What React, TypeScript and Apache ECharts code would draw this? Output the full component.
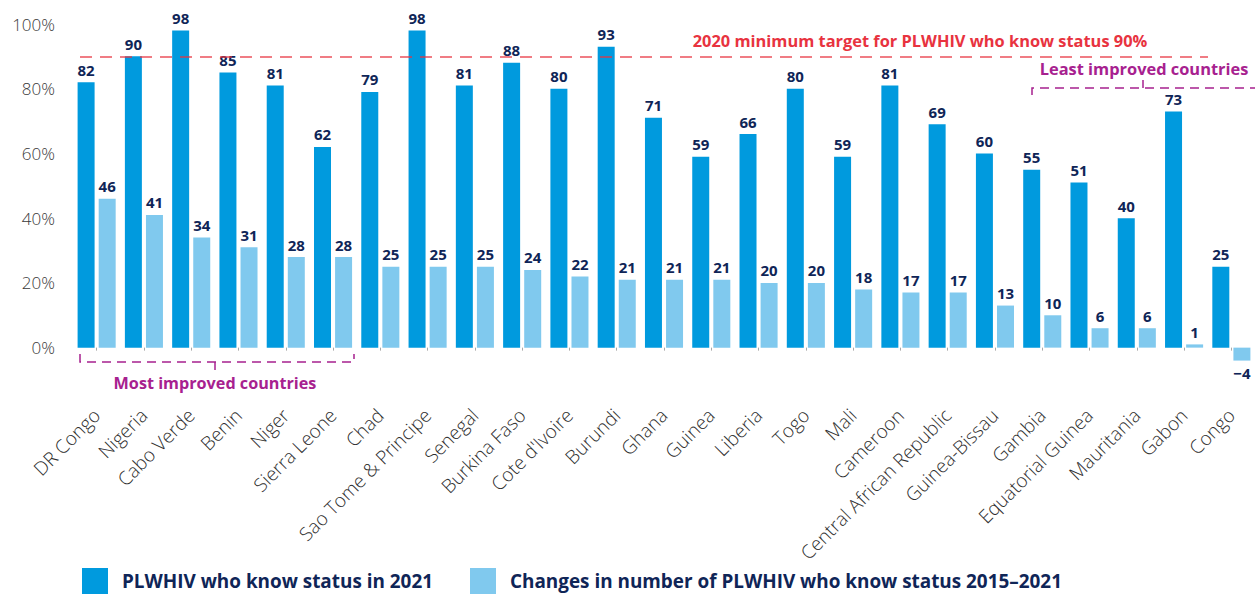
import React, { useEffect, useRef } from "react";
import * as echarts from "echarts";

const categories = [
  "DR Congo", "Nigeria", "Cabo Verde", "Benin", "Niger", "Sierra Leone", "Chad",
  "Sao Tome & Principe", "Senegal", "Burkina Faso", "Cote d'Ivoire", "Burundi",
  "Ghana", "Guinea", "Liberia", "Togo", "Mali", "Cameroon",
  "Central African Republic", "Guinea-Bissau", "Gambia", "Equatorial Guinea",
  "Mauritania", "Gabon", "Congo",
];
const knowStatus2021 = [82, 90, 98, 85, 81, 62, 79, 98, 81, 88, 80, 93, 71, 59, 66, 80, 59, 81, 69, 60, 55, 51, 40, 73, 25];
const change2015to2021 = [46, 41, 34, 31, 28, 28, 25, 25, 25, 24, 22, 21, 21, 21, 20, 20, 18, 17, 17, 13, 10, 6, 6, 1, -4];
const targetValue = 90;
const seriesNames = ["PLWHIV who know status in 2021", "Changes in number of PLWHIV who know status 2015\u20132021"];
const targetText = "2020 minimum target for PLWHIV who know status 90%";
const mostText = "Most improved countries";
const leastText = "Least improved countries";

const DARK = "#009ade";
const LIGHT = "#80c9ee";
const NAVY = "#0f2557";
const RED = "#e8333f";
const PURPLE = "#a7218f";
const FONT = "'Open Sans', 'Noto Sans', sans-serif";

export default function App() {
  const ref = useRef<HTMLDivElement>(null);
  useEffect(() => {
    document.body.style.margin = "0";
    if (!ref.current) return;
    const chart = echarts.init(ref.current, null, { renderer: "svg" });
    const labelCommon = {
      show: true,
      position: "top" as const,
      distance: 5,
      color: NAVY,
      fontWeight: "bold" as const,
      fontSize: 15,
      fontFamily: FONT,
      formatter: (p: any) => String(p.value).replace("-", "\u2212"),
    };
    chart.setOption({
      animation: false,
      grid: { left: 73, width: 1189, top: 24, bottom: 214, containLabel: false },
      legend: {
        left: 82,
        top: 568,
        padding: 0,
        itemWidth: 26,
        itemHeight: 26,
        itemGap: 37,
        icon: "rect",
        selectedMode: false,
        textStyle: { color: NAVY, fontWeight: "bold", fontSize: 18.9, lineHeight: 19, fontFamily: FONT, padding: [0, 0, 0, 9] },
        data: seriesNames,
      },
      xAxis: {
        type: "category",
        data: categories,
        axisLine: { show: false },
        axisTick: { show: true, alignWithLabel: true, length: 3, lineStyle: { color: "#aaaaaa" } },
        axisLabel: {
          rotate: 45,
          margin: 32,
          interval: 0,
          color: "#2e2e2e",
          fontSize: 19,
          fontWeight: 300,
          fontFamily: FONT,
        },
      },
      yAxis: {
        type: "value",
        min: -10,
        max: 100,
        interval: 10,
        axisLine: { show: false },
        axisTick: { show: false },
        splitLine: { show: false },
        axisLabel: {
          margin: 18,
          color: "#3a3a3a",
          fontSize: 17,
          fontWeight: 300,
          fontFamily: FONT,
          formatter: (v: number) => (v >= 0 && v % 20 === 0 ? v + "%" : ""),
        },
      },
      series: [
        {
          name: seriesNames[0],
          type: "bar",
          data: knowStatus2021,
          barWidth: 17,
          barGap: "24%",
          itemStyle: { color: DARK },
          label: labelCommon,
          markLine: {
            silent: true,
            symbol: "none",
            label: { show: false },
            lineStyle: { color: RED, type: [12, 8], width: 1.5, opacity: 0.85 },
            data: [[{ x: 80, yAxis: targetValue }, { x: 1208, yAxis: targetValue }]],
          },
        },
        {
          name: seriesNames[1],
          type: "bar",
          data: change2015to2021.map((v) => (v < 0 ? { value: v, label: { position: "bottom" } } : v)),
          barWidth: 17,
          barGap: "24%",
          itemStyle: { color: LIGHT },
          label: labelCommon,
        },
      ],
      graphic: [
        {
          type: "text",
          x: 920,
          y: 40,
          style: { text: targetText, fill: RED, fontSize: 16.4, fontWeight: "bold", fontFamily: FONT, align: "center", verticalAlign: "middle" },
        },
        {
          type: "polyline",
          shape: { points: [[80, 354], [80, 362], [354, 362], [354, 354]] },
          style: { stroke: PURPLE, lineWidth: 1.5, lineDash: [9, 6], fill: null },
        },
        {
          type: "line",
          shape: { x1: 215, y1: 362, x2: 215, y2: 370 },
          style: { stroke: PURPLE, lineWidth: 1.5 },
        },
        {
          type: "text",
          x: 215,
          y: 383,
          style: { text: mostText, fill: PURPLE, fontSize: 16.2, fontWeight: "bold", fontFamily: FONT, align: "center", verticalAlign: "middle" },
        },
        {
          type: "polyline",
          shape: { points: [[1032, 95], [1032, 88], [1262, 88]] },
          style: { stroke: PURPLE, lineWidth: 1.5, lineDash: [9, 6], fill: null },
        },
        {
          type: "line",
          shape: { x1: 1143, y1: 80, x2: 1143, y2: 88 },
          style: { stroke: PURPLE, lineWidth: 1.5 },
        },
        {
          type: "text",
          x: 1144,
          y: 68,
          style: { text: leastText, fill: PURPLE, fontSize: 16.4, fontWeight: "bold", fontFamily: FONT, align: "center", verticalAlign: "middle" },
        },
      ],
    });
    return () => chart.dispose();
  }, []);
  return <div ref={ref} style={{ width: 1255, height: 594 }} />;
}
